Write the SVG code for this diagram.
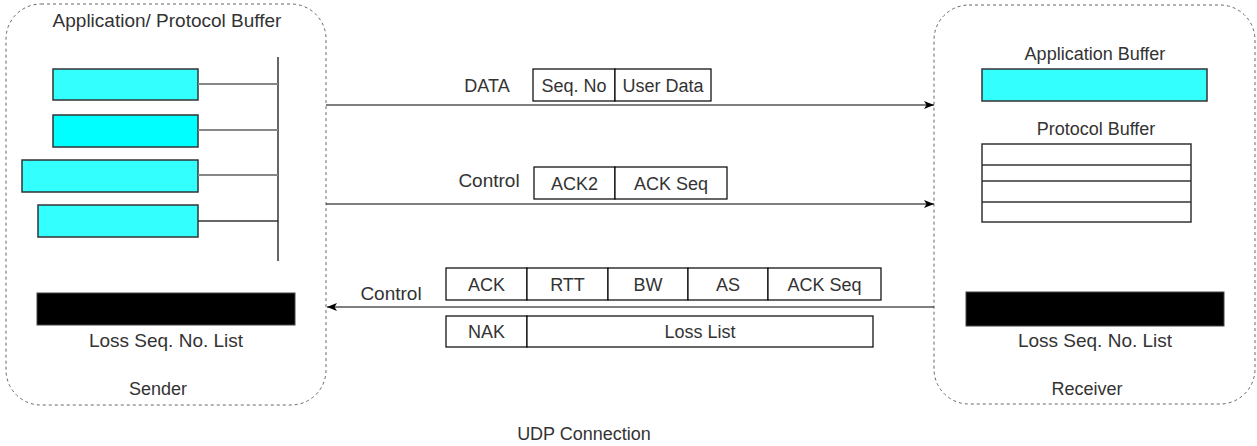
<svg xmlns="http://www.w3.org/2000/svg" width="1257" height="446" viewBox="0 0 1257 446">
  <style>
    text { font-family: "Liberation Sans", Arial, sans-serif; font-size: 18px; fill: #333333; text-anchor: middle; }
    .big { font-size: 19px; }
    .container { fill: #ffffff; stroke: #666666; stroke-width: 1; stroke-dasharray: 3 3; }
    .buf { fill: #33ffff; stroke: #333333; stroke-width: 1.5; }
    .loss { fill: #000000; stroke: #444444; stroke-width: 1; }
    .cell { fill: #ffffff; stroke: #000000; stroke-width: 1.2; }
    .tap { stroke: #888888; stroke-width: 2; fill: none; }
    .bus { stroke: #333333; stroke-width: 1.5; fill: none; }
    .flow { stroke: #000000; stroke-width: 1.2; fill: none; marker-end: url(#arrow); }
  </style>
  <defs>
    <marker id="arrow" markerUnits="userSpaceOnUse" markerWidth="12" markerHeight="10" refX="10" refY="4" orient="auto">
      <path d="M0,0 L10,4 L0,8 L2.5,4 Z" fill="#000000"/>
    </marker>
  </defs>

  <rect width="1257" height="446" fill="#ffffff"/>

  <!-- Sender -->
  <g id="sender">
    <rect class="container" x="6" y="4" width="320" height="401" rx="35" ry="35"/>
    <text class="big" x="167" y="27">Application/ Protocol Buffer</text>
    <rect class="buf" x="53" y="69" width="145" height="31"/>
    <rect class="buf" x="53" y="115" width="145" height="32" style="fill:#00ffff"/>
    <rect class="buf" x="22" y="160" width="176" height="32"/>
    <rect class="buf" x="38" y="205" width="160" height="32"/>
    <line class="bus" x1="278" y1="57" x2="278" y2="261"/>
    <line class="tap" x1="198" y1="84" x2="278" y2="84"/>
    <line class="tap" x1="198" y1="130" x2="278" y2="130"/>
    <line class="tap" x1="198" y1="175" x2="278" y2="175"/>
    <line class="bus" x1="198" y1="221" x2="278" y2="221"/>
    <rect class="loss" x="37" y="293" width="258" height="32"/>
    <text class="big" x="166" y="347">Loss Seq. No. List</text>
    <text x="158" y="395">Sender</text>
  </g>

  <!-- Receiver -->
  <g id="receiver">
    <rect class="container" x="934" y="5" width="321" height="399" rx="35" ry="35"/>
    <text x="1095" y="60">Application Buffer</text>
    <rect class="buf" x="982" y="69" width="225" height="32"/>
    <text x="1096" y="135">Protocol Buffer</text>
    <rect class="cell" x="982" y="144" width="209" height="78" style="stroke:#333333;stroke-width:1.5"/>
    <line class="bus" x1="982" y1="165" x2="1191" y2="165"/>
    <line class="bus" x1="982" y1="181" x2="1191" y2="181"/>
    <line class="bus" x1="982" y1="202" x2="1191" y2="202"/>
    <rect class="loss" x="966" y="292" width="258" height="34"/>
    <text class="big" x="1095" y="347">Loss Seq. No. List</text>
    <text x="1087" y="395">Receiver</text>
  </g>

  <!-- Connectors between sender and receiver -->
  <g id="connectors">
    <line class="flow" x1="326" y1="105" x2="934" y2="105"/>
    <line class="flow" x1="326" y1="204" x2="934" y2="204"/>
    <line class="flow" x1="934" y1="307" x2="327" y2="307"/>
  </g>

  <!-- DATA packet -->
  <g id="data-packet">
    <text x="487" y="92">DATA</text>
    <rect class="cell" x="533" y="69" width="82" height="32"/>
    <rect class="cell" x="615" y="69" width="96" height="32"/>
    <text x="574" y="92">Seq. No</text>
    <text x="663" y="92">User Data</text>
  </g>

  <!-- ACK2 control packet -->
  <g id="ack2-packet">
    <text class="big" x="489" y="187">Control</text>
    <rect class="cell" x="534" y="167" width="81" height="32"/>
    <rect class="cell" x="615" y="167" width="112" height="32"/>
    <text x="574.5" y="190">ACK2</text>
    <text x="671" y="190">ACK Seq</text>
  </g>

  <!-- ACK / NAK control packets -->
  <g id="ack-nak-packets">
    <text class="big" x="391" y="300">Control</text>
    <rect class="cell" x="446" y="268" width="81" height="32"/>
    <rect class="cell" x="527" y="268" width="81" height="32"/>
    <rect class="cell" x="608" y="268" width="80" height="32"/>
    <rect class="cell" x="688" y="268" width="80" height="32"/>
    <rect class="cell" x="768" y="268" width="113" height="32"/>
    <text x="486.5" y="291">ACK</text>
    <text x="567.5" y="291">RTT</text>
    <text x="648" y="291">BW</text>
    <text x="728" y="291">AS</text>
    <text x="824.5" y="291">ACK Seq</text>
    <rect class="cell" x="446" y="316" width="81" height="31"/>
    <rect class="cell" x="527" y="316" width="346" height="31"/>
    <text x="486.5" y="338">NAK</text>
    <text x="700" y="338">Loss List</text>
  </g>

  <g id="caption">
    <text x="584" y="440">UDP Connection</text>
  </g>
</svg>
